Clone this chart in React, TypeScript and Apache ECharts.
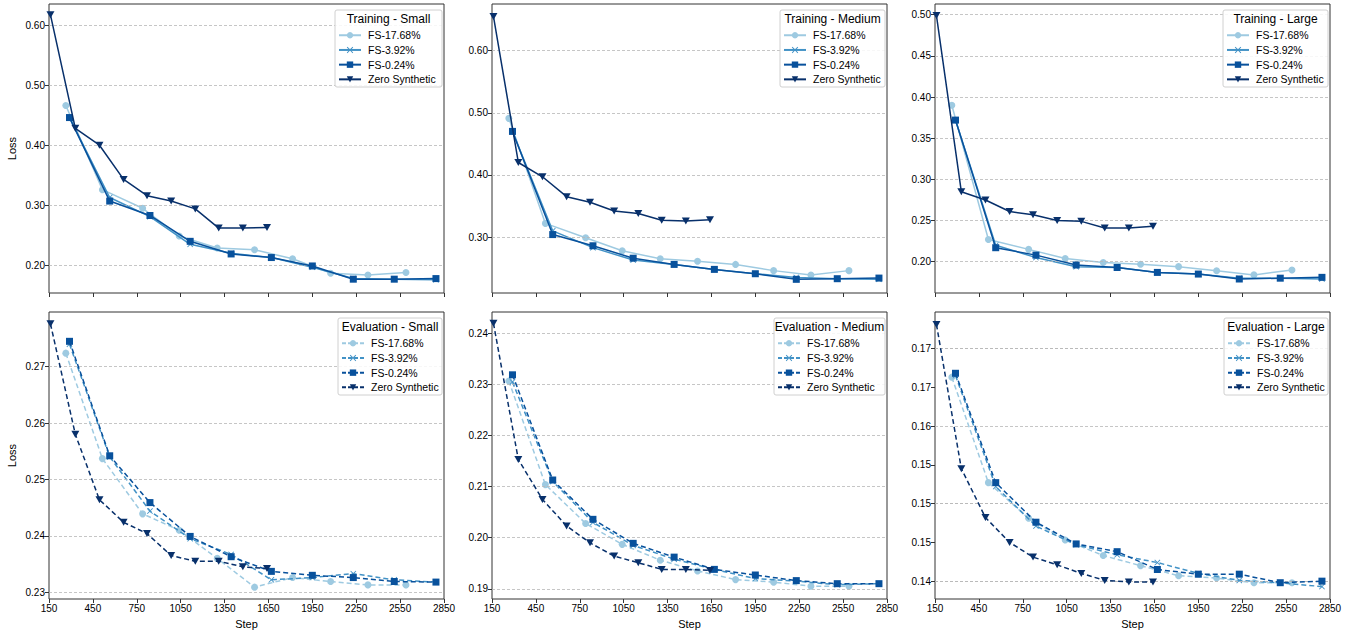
import React, { useEffect, useRef } from "react";
import * as echarts from "echarts";

const seriesNames = ["FS-17.68%", "FS-3.92%", "FS-0.24%", "Zero Synthetic"];
const colors = ["#9ecae1", "#4292c6", "#08519c", "#08306b"];
const steps1768 = [265, 515, 790, 1040, 1300, 1555, 1815, 2075, 2330, 2590];
const steps392 = [290, 565, 840, 1115, 1395, 1670, 1950, 2230, 2510, 2795];
const steps024 = [290, 565, 840, 1115, 1395, 1670, 1950, 2230, 2510, 2795];
const stepsZero = [160, 330, 495, 660, 820, 985, 1150, 1310, 1475, 1640];
const xTicks = [150, 450, 750, 1050, 1350, 1650, 1950, 2250, 2550, 2850];

// Training
const trainSmall1768 = [0.466, 0.326, 0.295, 0.249, 0.229, 0.226, 0.211, 0.187, 0.184, 0.188];
const trainSmall392 = [0.446, 0.313, 0.281, 0.235, 0.22, 0.213, 0.197, 0.178, 0.177, 0.176];
const trainSmall024 = [0.446, 0.307, 0.283, 0.24, 0.219, 0.213, 0.199, 0.177, 0.177, 0.178];
const trainSmallZero = [0.617, 0.428, 0.4, 0.343, 0.316, 0.307, 0.294, 0.262, 0.262, 0.263];

const trainMed1768 = [0.491, 0.322, 0.299, 0.278, 0.265, 0.261, 0.256, 0.246, 0.239, 0.246];
const trainMed392 = [0.47, 0.31, 0.283, 0.263, 0.256, 0.248, 0.241, 0.235, 0.233, 0.232];
const trainMed024 = [0.47, 0.304, 0.286, 0.266, 0.256, 0.248, 0.241, 0.232, 0.233, 0.234];
const trainMedZero = [0.655, 0.42, 0.397, 0.365, 0.356, 0.342, 0.338, 0.327, 0.326, 0.328];

const trainLarge1768 = [0.39, 0.227, 0.215, 0.204, 0.199, 0.197, 0.194, 0.189, 0.184, 0.19];
const trainLarge392 = [0.372, 0.22, 0.205, 0.194, 0.193, 0.187, 0.185, 0.18, 0.18, 0.179];
const trainLarge024 = [0.372, 0.217, 0.208, 0.196, 0.193, 0.187, 0.185, 0.179, 0.18, 0.181];
const trainLargeZero = [0.499, 0.285, 0.275, 0.261, 0.257, 0.25, 0.249, 0.241, 0.241, 0.243];

// Evaluation
const evalSmall1768 = [0.2724, 0.2537, 0.2439, 0.241, 0.236, 0.2309, 0.2326, 0.2319, 0.2313, 0.2313];
const evalSmall392 = [0.274, 0.254, 0.2444, 0.2395, 0.2367, 0.2322, 0.2326, 0.2333, 0.2322, 0.2318];
const evalSmall024 = [0.2745, 0.2542, 0.2459, 0.2399, 0.2363, 0.2337, 0.233, 0.2326, 0.2319, 0.2318];
const evalSmallZero = [0.2776, 0.258, 0.2464, 0.2424, 0.2404, 0.2365, 0.2355, 0.2355, 0.2345, 0.2342];

const evalMed1768 = [0.2307, 0.2104, 0.2028, 0.1987, 0.1956, 0.1935, 0.1918, 0.1913, 0.1905, 0.1905];
const evalMed392 = [0.2305, 0.211, 0.203, 0.1985, 0.1958, 0.1938, 0.192, 0.1915, 0.1908, 0.191];
const evalMed024 = [0.2319, 0.2113, 0.2036, 0.1989, 0.1962, 0.1938, 0.1927, 0.1916, 0.191, 0.191];
const evalMedZero = [0.242, 0.2153, 0.2075, 0.2023, 0.199, 0.1964, 0.1951, 0.1938, 0.1938, 0.1936];

const evalLarge1768 = [0.1663, 0.1527, 0.1481, 0.1453, 0.1433, 0.142, 0.1407, 0.1404, 0.1398, 0.1398];
const evalLarge392 = [0.1665, 0.1522, 0.1471, 0.1447, 0.1434, 0.1424, 0.141, 0.1401, 0.1398, 0.1393];
const evalLarge024 = [0.1668, 0.1527, 0.1476, 0.1448, 0.1438, 0.1415, 0.1409, 0.1409, 0.1398, 0.14];
const evalLargeZero = [0.1731, 0.1545, 0.1482, 0.145, 0.1431, 0.1421, 0.141, 0.1401, 0.1399, 0.1399];

const yTicksTrainSmall = [0.2, 0.3, 0.4, 0.5, 0.6];
const yTicksTrainMed = [0.3, 0.4, 0.5, 0.6];
const yTicksTrainLarge = [0.2, 0.25, 0.3, 0.35, 0.4, 0.45, 0.5];
const yTicksEvalSmall = [0.23, 0.24, 0.25, 0.26, 0.27];
const yTicksEvalMed = [0.19, 0.2, 0.21, 0.22, 0.23, 0.24];
const yTicksEvalLarge = [0.14, 0.145, 0.15, 0.155, 0.16, 0.165, 0.17];
const yLabelsEvalLarge = ["0.14", "0.15", "0.15", "0.15", "0.16", "0.17", "0.17"];

const FONT = "Liberation Sans, Arial, sans-serif";
const X_MARK = "path://M0,1L1,0L5,4L9,0L10,1L6,5L10,9L9,10L5,6L1,10L0,9L4,5Z";
const symbols = ["circle", X_MARK, "rect", "triangle"];

const colLeft = [49, 492, 935];
const plotW = 395;
const rowTop = [4, 312];
const rowH = [289, 287];

type Panel = {
  title: string; row: number; col: number; min: number; max: number;
  ticks: number[]; labels?: string[]; data: number[][]; boxW: number;
};

const panels: Panel[] = [
  { title: "Training - Small", row: 0, col: 0, min: 0.154, max: 0.635, ticks: yTicksTrainSmall, data: [trainSmall1768, trainSmall392, trainSmall024, trainSmallZero], boxW: 107 },
  { title: "Training - Medium", row: 0, col: 1, min: 0.21, max: 0.675, ticks: yTicksTrainMed, data: [trainMed1768, trainMed392, trainMed024, trainMedZero], boxW: 105 },
  { title: "Training - Large", row: 0, col: 2, min: 0.162, max: 0.513, ticks: yTicksTrainLarge, data: [trainLarge1768, trainLarge392, trainLarge024, trainLargeZero], boxW: 105 },
  { title: "Evaluation - Small", row: 1, col: 0, min: 0.2288, max: 0.2797, ticks: yTicksEvalSmall, data: [evalSmall1768, evalSmall392, evalSmall024, evalSmallZero], boxW: 104 },
  { title: "Evaluation - Medium", row: 1, col: 1, min: 0.188, max: 0.2442, ticks: yTicksEvalMed, data: [evalMed1768, evalMed392, evalMed024, evalMedZero], boxW: 111 },
  { title: "Evaluation - Large", row: 1, col: 2, min: 0.1377, max: 0.1747, ticks: yTicksEvalLarge, labels: yLabelsEvalLarge, data: [evalLarge1768, evalLarge392, evalLarge024, evalLargeZero], boxW: 104 },
];
const stepSets = [steps1768, steps392, steps024, stepsZero];

function buildOption() {
  const grid: any[] = [], xAxis: any[] = [], yAxis: any[] = [], series: any[] = [], legend: any[] = [], graphic: any[] = [];
  panels.forEach((p, i) => {
    const left = colLeft[p.col], top = rowTop[p.row], h = rowH[p.row];
    grid.push({ left, top, width: plotW, height: h, show: true, borderColor: "#333", borderWidth: 1, backgroundColor: "transparent" });
    xAxis.push({
      type: "value", gridIndex: i, min: 150, max: 2850,
      axisLine: { show: false },
      axisTick: { show: true, customValues: xTicks, length: 4, lineStyle: { color: "#333" } },
      axisLabel: { show: p.row === 1, customValues: xTicks, color: "#000", fontSize: 10, fontFamily: FONT, margin: 4, formatter: (v: number) => String(v) },
      splitLine: { show: false },
      name: p.row === 1 ? "Step" : "", nameLocation: "middle", nameGap: 19,
      nameTextStyle: { color: "#000", fontSize: 11, fontFamily: FONT },
    });
    yAxis.push({
      type: "value", gridIndex: i, min: p.min, max: p.max,
      axisLine: { show: false },
      axisTick: { show: true, customValues: p.ticks, length: 4, lineStyle: { color: "#333" } },
      axisLabel: {
        show: true, customValues: p.ticks, color: "#000", fontSize: 10, fontFamily: FONT, margin: 4,
        formatter: (v: number) => {
          if (p.labels) { const k = p.ticks.findIndex((t) => Math.abs(t - v) < 1e-9); if (k >= 0) return p.labels[k]; }
          return v.toFixed(2);
        },
      },
      splitLine: { show: false },
      name: p.col === 0 ? "Loss" : "", nameLocation: "middle", nameGap: 32,
      nameTextStyle: { color: "#000", fontSize: 11, fontFamily: FONT },
    });
    series.push({
      type: "line", xAxisIndex: i, yAxisIndex: i, data: [], silent: true, symbol: "none",
      markLine: {
        silent: true, symbol: "none", label: { show: false }, animation: false,
        lineStyle: { color: "#b8b8b8", type: [3, 2], width: 0.8 },
        data: p.ticks.map((t) => ({ yAxis: t })),
      },
    });
    p.data.forEach((vals, s) => {
      series.push({
        name: seriesNames[s], type: "line", xAxisIndex: i, yAxisIndex: i,
        data: vals.map((v, k) => [stepSets[s][k], v]),
        symbol: symbols[s], symbolSize: s === 1 ? 6 : s === 3 ? [8, 7] : 7,
        symbolRotate: s === 3 ? 180 : 0,
        showSymbol: true,
        lineStyle: { color: colors[s], width: 1.5, type: p.row === 1 ? [5, 3] : "solid" },
        itemStyle: { color: colors[s], borderWidth: 0 },
        z: 3 + s,
      });
    });
    const boxW = p.boxW, boxH = 77;
    const bx = left + plotW - boxW - 2, by = top + 6;
    graphic.push({ type: "rect", shape: { x: bx, y: by, width: boxW, height: boxH, r: 2 }, style: { fill: "rgba(255,255,255,0.85)", stroke: "#d0d0d0", lineWidth: 1 }, z: 10 });
    graphic.push({ type: "text", x: bx + boxW / 2, y: by + 3, style: { text: p.title, fill: "#000", font: `12px ${FONT}`, textAlign: "center", textVerticalAlign: "top" }, z: 11 });
    legend.push({
      left: bx + 3, top: by + 19, orient: "vertical", itemWidth: 22, itemHeight: 8, itemGap: 2.2,
      data: seriesNames, textStyle: { color: "#000", fontSize: 10.5, fontFamily: FONT, padding: [0, 0, 0, 2], lineHeight: 12.5 },
      padding: 0, selectedMode: false, z: 12,
      lineStyle: { type: p.row === 1 ? [4, 2] : "solid" },
    });
  });
  return { animation: false, backgroundColor: "#fff", grid, xAxis, yAxis, series, legend, graphic };
}

export default function App() {
  const ref = useRef<HTMLDivElement>(null);
  useEffect(() => {
    const chart = echarts.init(ref.current!, undefined, { renderer: "svg" });
    chart.setOption(buildOption() as any);
    return () => chart.dispose();
  }, []);
  return <div ref={ref} style={{ position: "fixed", left: 0, top: 0, width: 1355, height: 634 }} />;
}
